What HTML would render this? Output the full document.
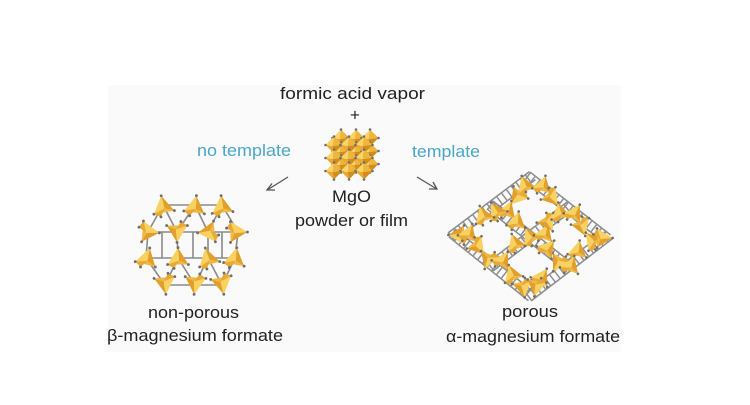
<!DOCTYPE html>
<html>
<head>
<meta charset="utf-8">
<style>
  html,body{margin:0;padding:0;background:#ffffff;}
  svg{display:block;}
  text{font-family:"Liberation Sans","DejaVu Sans",sans-serif;font-size:17px;}
</style>
</head>
<body>
<svg width="750" height="405" viewBox="0 0 750 405" xmlns="http://www.w3.org/2000/svg">
  <defs>
    <g id="o">
      <polygon points="0,-8.5 -8.5,0 -1.5,1" fill="#f9d569"/>
      <polygon points="0,-8.5 8.5,0 -1.5,1" fill="#f0b63c"/>
      <polygon points="-8.5,0 0,8.5 -1.5,1" fill="#eba92d"/>
      <polygon points="8.5,0 0,8.5 -1.5,1" fill="#d18e1d"/>
      <g fill="#6e6e6e">
        <circle cx="0" cy="-8.5" r="1.3"/><circle cx="8.5" cy="0" r="1.3"/>
        <circle cx="0" cy="8.5" r="1.3"/><circle cx="-8.5" cy="0" r="1.3"/>
      </g>
    </g>
    <g id="t">
      <polygon points="-8,5 0,-8 1,2" fill="#f8d15f"/>
      <polygon points="0,-8 8,5 1,2" fill="#e2a02a"/>
      <polygon points="-8,5 8,5 1,2" fill="#f0b844"/>
      <polygon points="-8,5 1,2 -3,8" fill="#e8aa35"/>
      <g fill="#6e6e6e">
        <circle cx="-8" cy="5" r="1.1"/><circle cx="0" cy="-8" r="1.1"/>
        <circle cx="8" cy="5" r="1.1"/><circle cx="-3" cy="8" r="1.1"/>
      </g>
    </g>
    <g id="wall">
      <line x1="0" y1="-5" x2="102" y2="-5" stroke="#8c8c8c" stroke-width="1.5"/>
      <line x1="0" y1="5" x2="102" y2="5" stroke="#8c8c8c" stroke-width="1.5"/>
      <line x1="0" y1="0" x2="102" y2="0" stroke="#909090" stroke-width="10" stroke-dasharray="1.5 4.5"/>
    </g>
  </defs>

  <rect x="108" y="85" width="513" height="267" fill="#fafafa"/>

  <!-- Top text -->
  <text x="280" y="99" textLength="145" lengthAdjust="spacingAndGlyphs" fill="#222">formic acid vapor</text>
  <text x="355" y="120.5" text-anchor="middle" fill="#222">+</text>

  <!-- MgO cube: back layer -->
  <use href="#o" x="341" y="138"/><use href="#o" x="356" y="138"/><use href="#o" x="370" y="138"/>
  <use href="#o" x="341" y="151"/><use href="#o" x="356" y="151"/><use href="#o" x="370" y="151"/>
  <use href="#o" x="341" y="164"/><use href="#o" x="356" y="164"/><use href="#o" x="370" y="164"/>
  <!-- front layer -->
  <use href="#o" x="334" y="145"/><use href="#o" x="349" y="145"/><use href="#o" x="364" y="145"/>
  <use href="#o" x="334" y="158"/><use href="#o" x="349" y="158"/><use href="#o" x="364" y="158"/>
  <use href="#o" x="334" y="171"/><use href="#o" x="349" y="171"/><use href="#o" x="364" y="171"/>

  <!-- Labels -->
  <text x="197" y="156" textLength="94" lengthAdjust="spacingAndGlyphs" fill="#4aa6c6">no template</text>
  <text x="412" y="157" textLength="68" lengthAdjust="spacingAndGlyphs" fill="#4aa6c6">template</text>
  <text x="332" y="202" textLength="39" lengthAdjust="spacingAndGlyphs" fill="#222">MgO</text>
  <text x="295" y="226" textLength="113" lengthAdjust="spacingAndGlyphs" fill="#222">powder or film</text>

  <!-- Arrows -->
  <g stroke="#555" stroke-width="1.3" fill="none">
    <line x1="288" y1="177" x2="268" y2="189.5"/>
    <polyline points="272,183.5 267,190 275,190"/>
    <line x1="417" y1="177" x2="436" y2="188.5"/>
    <polyline points="429,189 437,189 433,182"/>
  </g>

  <!-- Left structure: beta (non-porous) -->
  <g stroke="#8a8a8a" stroke-width="1.6" fill="none">
    <line x1="163" y1="205" x2="195" y2="205"/><line x1="195" y1="205" x2="222" y2="205"/>
    <line x1="163" y1="205" x2="148" y2="232"/><line x1="163" y1="205" x2="177" y2="232"/>
    <line x1="195" y1="205" x2="177" y2="232"/><line x1="195" y1="205" x2="208" y2="232"/>
    <line x1="222" y1="205" x2="208" y2="232"/><line x1="222" y1="205" x2="238" y2="232"/>
    <line x1="148" y1="232" x2="177" y2="232"/><line x1="177" y1="232" x2="208" y2="232"/><line x1="208" y1="232" x2="238" y2="232"/>
    <line x1="148" y1="232" x2="146" y2="258"/><line x1="177" y1="232" x2="178" y2="258"/>
    <line x1="208" y1="232" x2="208" y2="258"/><line x1="238" y1="232" x2="235" y2="258"/>
    <line x1="146" y1="258" x2="178" y2="258"/><line x1="178" y1="258" x2="208" y2="258"/><line x1="208" y1="258" x2="235" y2="258"/>
    <line x1="146" y1="258" x2="165" y2="285"/><line x1="178" y1="258" x2="165" y2="285"/>
    <line x1="178" y1="258" x2="195" y2="285"/><line x1="208" y1="258" x2="195" y2="285"/>
    <line x1="208" y1="258" x2="222" y2="285"/><line x1="235" y1="258" x2="222" y2="285"/>
    <line x1="165" y1="285" x2="195" y2="285"/><line x1="195" y1="285" x2="222" y2="285"/>
    <line x1="162" y1="232" x2="162" y2="258"/><line x1="193" y1="232" x2="193" y2="258"/><line x1="222" y1="232" x2="222" y2="258"/>
  </g>
  <g>
    <use href="#t" transform="translate(163,206) rotate(-10) scale(1.3)"/>
    <use href="#t" transform="translate(195,206) rotate(8) scale(1.3)"/>
    <use href="#t" transform="translate(222,206) rotate(-5) scale(1.3)"/>
    <use href="#t" transform="translate(149,232) rotate(95) scale(1.3)"/>
    <use href="#t" transform="translate(177,232) rotate(180) scale(1.3)"/>
    <use href="#t" transform="translate(208,232) rotate(-95) scale(1.3)"/>
    <use href="#t" transform="translate(237,232) rotate(90) scale(1.3)"/>
    <use href="#t" transform="translate(147,258) rotate(15) scale(1.3)"/>
    <use href="#t" transform="translate(178,258) rotate(0) scale(1.3)"/>
    <use href="#t" transform="translate(208,258) rotate(-15) scale(1.3)"/>
    <use href="#t" transform="translate(235,258) rotate(10) scale(1.3)"/>
    <use href="#t" transform="translate(165,284) rotate(175) scale(1.3)"/>
    <use href="#t" transform="translate(195,284) rotate(185) scale(1.3)"/>
    <use href="#t" transform="translate(222,284) rotate(170) scale(1.3)"/>
  </g>

  <!-- Right structure: alpha (porous) -->
  <g>
    <use href="#wall" transform="translate(452,233) rotate(38.7)"/>
    <use href="#wall" transform="translate(490,205) rotate(38.2)"/>
    <use href="#wall" transform="translate(527,176) rotate(38)"/>
    <use href="#wall" transform="translate(451,237) rotate(-37)"/>
    <use href="#wall" transform="translate(490,267) rotate(-37.3)"/>
    <use href="#wall" transform="translate(528,297) rotate(-37.4)"/>
  </g>
  <g>
    <use href="#t" transform="translate(525,185) rotate(-20) scale(1.2)"/>
    <use href="#t" transform="translate(543,185) rotate(15) scale(1.2)"/>
    <use href="#t" transform="translate(552,198) rotate(140) scale(1.2)"/>
    <use href="#t" transform="translate(517,197) rotate(-140) scale(1.2)"/>
    <use href="#t" transform="translate(508,210) rotate(20) scale(1.2)"/>
    <use href="#t" transform="translate(496,211) rotate(-30) scale(1.2)"/>
    <use href="#t" transform="translate(483,215) rotate(-20) scale(1.2)"/>
    <use href="#t" transform="translate(458,235) rotate(-90) scale(1.2)"/>
    <use href="#t" transform="translate(469,233) rotate(20) scale(1.2)"/>
    <use href="#t" transform="translate(478,247) rotate(140) scale(1.2)"/>
    <use href="#t" transform="translate(488,260) rotate(-160) scale(1.2)"/>
    <use href="#t" transform="translate(503,260) rotate(30) scale(1.2)"/>
    <use href="#t" transform="translate(515,243) rotate(-20) scale(1.2)"/>
    <use href="#t" transform="translate(517,221) rotate(10) scale(1.2)"/>
    <use href="#t" transform="translate(530,236) rotate(-30) scale(1.2)"/>
    <use href="#t" transform="translate(545,233) rotate(20) scale(1.2)"/>
    <use href="#t" transform="translate(548,223) rotate(150) scale(1.2)"/>
    <use href="#t" transform="translate(560,212) rotate(-10) scale(1.2)"/>
    <use href="#t" transform="translate(575,213) rotate(30) scale(1.2)"/>
    <use href="#t" transform="translate(582,227) rotate(160) scale(1.2)"/>
    <use href="#t" transform="translate(592,240) rotate(-40) scale(1.2)"/>
    <use href="#t" transform="translate(603,238) rotate(90) scale(1.2)"/>
    <use href="#t" transform="translate(578,250) rotate(10) scale(1.2)"/>
    <use href="#t" transform="translate(558,263) rotate(-150) scale(1.2)"/>
    <use href="#t" transform="translate(548,248) rotate(40) scale(1.2)"/>
    <use href="#t" transform="translate(512,274) rotate(-20) scale(1.2)"/>
    <use href="#t" transform="translate(542,277) rotate(30) scale(1.2)"/>
    <use href="#t" transform="translate(523,288) rotate(170) scale(1.2)"/>
    <use href="#t" transform="translate(536,287) rotate(-170) scale(1.2)"/>
    <use href="#t" transform="translate(571,265) rotate(20) scale(1.2)"/>
  </g>

  <!-- Bottom labels -->
  <text x="148" y="318" textLength="91" lengthAdjust="spacingAndGlyphs" fill="#222">non-porous</text>
  <text x="107" y="341" textLength="176" lengthAdjust="spacingAndGlyphs" fill="#222">β-magnesium formate</text>
  <text x="502" y="317" textLength="56" lengthAdjust="spacingAndGlyphs" fill="#222">porous</text>
  <text x="446" y="342" textLength="174" lengthAdjust="spacingAndGlyphs" fill="#222">α-magnesium formate</text>
</svg>
</body>
</html>
